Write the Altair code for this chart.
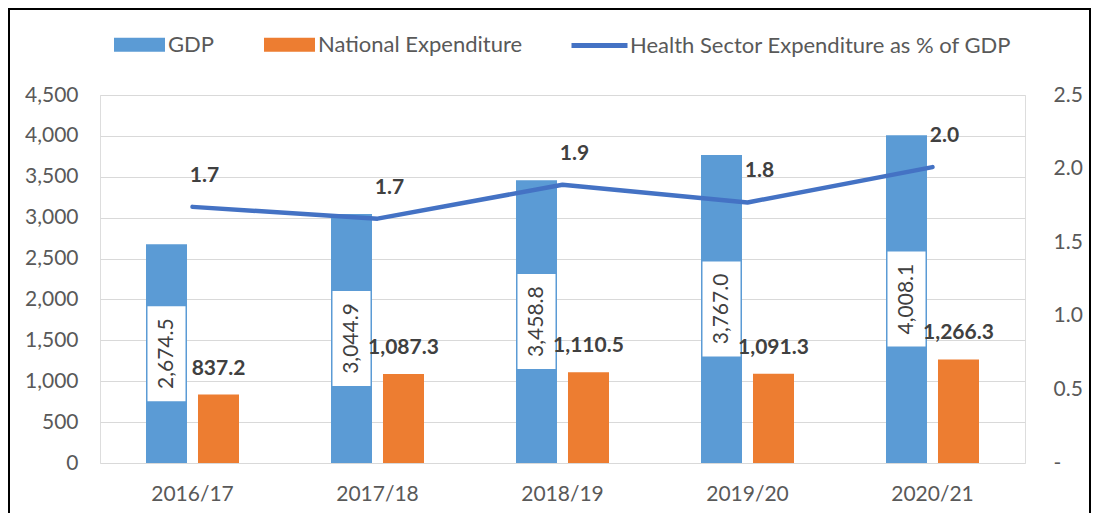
import altair as alt
import pandas as pd

FONT = "Lato"
FS = 21
LFS = 22

years = ["2016/17", "2017/18", "2018/19", "2019/20", "2020/21"]
gdp = [2674.5, 3044.9, 3458.8, 3767.0, 4008.1]
nat_exp = [837.2, 1087.3, 1110.5, 1091.3, 1266.3]
health_pct = [1.74, 1.66, 1.89, 1.77, 2.01]
series_names = ["GDP", "National Expenditure"]
series_colors = ["#5B9BD5", "#ED7D31"]
line_name = "Health Sector Expenditure as % of GDP"
line_color = "#4472C4"
left_ticks = [0, 500, 1000, 1500, 2000, 2500, 3000, 3500, 4000, 4500]
right_ticks = [0, 0.5, 1.0, 1.5, 2.0, 2.5]

bars_df = pd.DataFrame({
    "year": years * 2,
    "series": [series_names[0]] * len(years) + [series_names[1]] * len(years),
    "value": gdp + nat_exp,
})
gdp_df = pd.DataFrame({"year": years, "series": series_names[0], "value": gdp})
ne_df = pd.DataFrame({"year": years, "series": series_names[1], "value": nat_exp})
line_df = pd.DataFrame({"year": years, "pct": health_pct, "name": line_name})
frame_df = pd.DataFrame({"a": [0]})

W, H = 925, 368
PAD = {"left": 92, "top": 87, "right": 66, "bottom": 50}

x_enc = alt.X(
    "year:N", sort=years,
    scale=alt.Scale(domain=years, paddingInner=0, paddingOuter=0),
    axis=alt.Axis(title=None, labelAngle=0, ticks=False, domain=False, grid=False,
                  labelFontSize=FS, labelColor="#595959", labelFont=FONT, labelPadding=20),
)
xoff = alt.XOffset("series:N", scale=alt.Scale(domain=series_names, paddingInner=0.2115, paddingOuter=0.8846))
left_scale = alt.Scale(domain=[0, 4500], nice=False, zero=True)

bars = alt.Chart(bars_df).mark_bar().encode(
    x=x_enc,
    xOffset=xoff,
    y=alt.Y("value:Q", scale=left_scale,
            axis=alt.Axis(title=None, values=left_ticks, format=",.0f", grid=True, gridColor="#D9D9D9",
                          gridWidth=1, domain=False, ticks=False, labelPadding=22,
                          labelFontSize=FS, labelColor="#595959", labelFont=FONT)),
    color=alt.Color("series:N", scale=alt.Scale(domain=series_names, range=series_colors),
                    legend=alt.Legend(orient="none", legendX=14, legendY=-76, direction="horizontal",
                                      title=None, symbolType="M-1,-0.275H1V0.275H-1Z", symbolSize=2601,
                                      symbolStrokeWidth=0, labelFontSize=LFS, labelColor="#595959",
                                      labelFont=FONT, columnPadding=49, padding=0, labelOffset=3,
                                      labelLimit=0)),
)

boxes = alt.Chart(gdp_df).transform_calculate(mid="datum.value / 2").mark_point(
    shape="M-0.4,-1H0.4V1H-0.4Z", size=9025, filled=True, fill="white", opacity=1, strokeWidth=0
).encode(
    x=x_enc, xOffset=xoff,
    y=alt.Y("mid:Q", scale=left_scale, axis=None),
)

gdp_text = alt.Chart(gdp_df).transform_calculate(mid="datum.value / 2").mark_text(
    angle=270, fontSize=FS, color="#404040", font=FONT, align="center", baseline="middle"
).encode(
    x=x_enc, xOffset=xoff,
    y=alt.Y("mid:Q", scale=left_scale, axis=None),
    text=alt.Text("value:Q", format=",.1f"),
)

ne_text = alt.Chart(ne_df).mark_text(
    fontSize=FS, fontWeight="bold", color="#404040", font=FONT, dy=-26, align="center", baseline="middle"
).encode(
    x=x_enc, xOffset=xoff,
    y=alt.Y("value:Q", scale=left_scale, axis=None),
    text=alt.Text("value:Q", format=",.1f"),
)

right_scale = alt.Scale(domain=[0, 2.5], nice=False, zero=True)

line = alt.Chart(line_df).mark_line(strokeWidth=4.5, strokeCap="round", strokeJoin="round").encode(
    x=x_enc,
    y=alt.Y("pct:Q", scale=right_scale,
            axis=alt.Axis(orient="right", title=None, values=right_ticks, grid=False, domain=False,
                          ticks=False, labelPadding=28, labelFontSize=FS, labelColor="#595959",
                          labelFont=FONT,
                          labelExpr="datum.value == 0 ? '-' : format(datum.value, '.1f')")),
    stroke=alt.Stroke("name:N", scale=alt.Scale(domain=[line_name], range=[line_color]),
                      legend=alt.Legend(orient="none", legendX=469, legendY=-80, direction="horizontal",
                                        title=None, symbolType="stroke", symbolSize=3136,
                                        symbolStrokeWidth=5, labelFontSize=LFS, labelColor="#595959",
                                        labelFont=FONT, padding=0, labelOffset=0, labelLimit=0)),
)

line_text = alt.Chart(line_df).mark_text(
    fontSize=FS, fontWeight="bold", color="#404040", font=FONT, dx=12, dy=-31, align="center", baseline="middle"
).encode(
    x=x_enc,
    y=alt.Y("pct:Q", scale=right_scale, axis=None),
    text=alt.Text("pct:Q", format=".1f"),
)

frame = alt.Chart(frame_df).mark_rect(fillOpacity=0, stroke="black", strokeWidth=2).encode(
    x=alt.value(-91), x2=alt.value(W + PAD["right"] - 1),
    y=alt.value(-PAD["top"] + 1), y2=alt.value(H + PAD["bottom"] + 20),
)

chart = alt.layer(bars, boxes, gdp_text, ne_text, line, line_text, frame).resolve_scale(
    y="independent"
).properties(
    width=W, height=H, padding=PAD, autosize=alt.AutoSizeParams(type="none"),
).configure_view(stroke=None).configure(background="white")

chart.save("out.html", embed_options={"renderer": "svg", "actions": False})
